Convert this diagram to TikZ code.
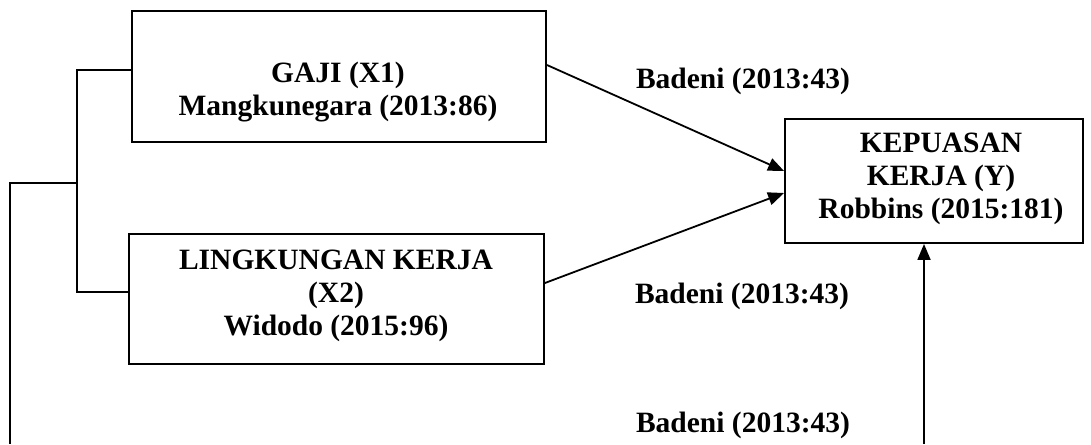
\documentclass[tikz,border=0pt]{standalone}
\usepackage{fontspec}
\setmainfont{Liberation Serif}
\usetikzlibrary{arrows.meta}
\begin{document}
\begin{tikzpicture}[x=1pt,y=-1pt,
  box/.style={draw=black,line width=1.9pt,rectangle,inner sep=0pt,fill=white},
  txt/.style={align=center,inner sep=0pt,font=\bfseries\fontsize{29.5}{33}\selectfont},
  conn/.style={draw=black,line width=1.8pt},
  arr/.style={conn,-{Triangle[length=16pt,width=13pt]}}]
\useasboundingbox (0,0) rectangle (1091,444);
% boxes
\node[box,minimum width=414pt,minimum height=131pt] (b1) at (339,76.5) {};
\node[box,minimum width=415pt,minimum height=130pt] (b2) at (336.5,299) {};
\node[box,minimum width=298pt,minimum height=124pt] (bY) at (934,181) {};
% box texts
\node[txt] (t1) at (338,92) {GAJI (X1)\\Mangkunegara (2013:86)};
\node[txt] (t2) at (336,296) {LINGKUNGAN KERJA\\(X2)\\Widodo (2015:96)};
\node[txt] (tY) at (941,179) {KEPUASAN\\KERJA (Y)\\Robbins (2015:181)};
% labels
\node[txt] (l1) at (743,81) {Badeni (2013:43)};
\node[txt] (l2) at (742,296) {Badeni (2013:43)};
\node[txt] (l3) at (743,425) {Badeni (2013:43)};
% tree on the left
\coordinate (j) at (77,183);
\coordinate (bl) at (10,444);
\coordinate (ub) at (924,444);
\draw[conn] ([yshift=6.5pt]b1.west) -| (j) |- ([yshift=7pt]b2.west);
\draw[conn] (j) -| (bl);
% arrows
\draw[arr] ([yshift=11.5pt]b1.east) -- ([yshift=10pt]bY.west);
\draw[arr] ([yshift=16pt]b2.east) -- ([yshift=-12pt]bY.west);
\draw[arr] (ub) -- (ub |- bY.south);
\end{tikzpicture}
\end{document}
